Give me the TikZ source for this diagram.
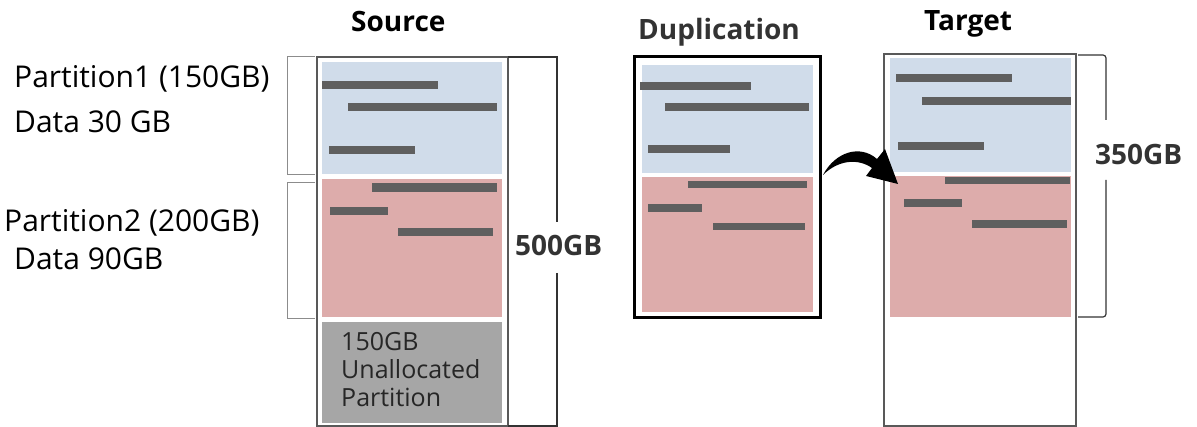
\documentclass[tikz,border=0pt]{standalone}
\usepackage{fontspec}
\setmainfont{Open Sans}
\usetikzlibrary{arrows.meta}
\definecolor{pblue}{HTML}{D0DCEA}
\definecolor{pred}{HTML}{DDACAB}
\definecolor{pgray}{HTML}{A6A6A6}
\definecolor{bar}{HTML}{5F5F5F}
\definecolor{frame}{HTML}{595959}
\definecolor{brk}{HTML}{8C8C8C}
\definecolor{dtext}{HTML}{333333}
\tikzset{
  barline/.style={fill=bar},
  lbl/.style={anchor=base west, inner sep=0pt, font=\fontsize{30}{36}\selectfont},
  ttl/.style={anchor=base west, inner sep=0pt, font=\fontsize{28}{32}\selectfont\bfseries},
  size/.style={anchor=base west, inner sep=0pt, font=\fontsize{28}{32}\selectfont\bfseries, text=dtext},
  thinframe/.style={draw=frame, line width=1.3pt},
  bracket/.style={draw=black!80, line width=1.2pt},
}
\begin{document}
\begin{tikzpicture}[x=1pt,y=-1pt]
\useasboundingbox (0,0) rectangle (1197,427);

% ---------- Source ----------
\node[ttl] (tsrc) at (351,32) {Source};
\draw[thinframe] (317,57) rectangle (508,426);
\fill[pblue] (322,62) rectangle (502,174);
\fill[pred] (322,179) rectangle (502,317);
\fill[pgray] (322,322) rectangle (502,423);
\fill[barline] (322,81) rectangle (438,89);
\fill[barline] (348,103) rectangle (497,111);
\fill[barline] (329,146) rectangle (415,154);
\fill[barline] (372,183) rectangle (497,192);
\fill[barline] (330,207) rectangle (388,215);
\fill[barline] (398,228) rectangle (493,236);
\node[anchor=base west, inner sep=0pt, align=left, font=\fontsize{25}{28.5}\selectfont, text=black!85] (unalloc) at (341,407) {150GB\\Unallocated\\Partition};
% 500GB bracket
\draw[bracket] (557,222) -- (557,57) -- (508,57);
\draw[bracket] (557,273) -- (557,426) -- (508,426);
\node[size] (s500) at (515,256) {500GB};

% left brackets and labels
\draw[draw=brk, line width=1pt] (315,57) -- (287,57) -- (287,175) -- (315,175);
\draw[draw=brk, line width=1pt] (315,183) -- (287,183) -- (287,319) -- (315,319);
\node[lbl] (p1) at (14,88) {Partition1 (150GB)};
\node[lbl] (d1) at (14,133) {Data 30 GB};
\node[lbl] (p2) at (4,232) {Partition2 (200GB)};
\node[lbl] (d2) at (14,270) {Data 90GB};

% ---------- Duplication ----------
\node[ttl, text=dtext] (tdup) at (638,40) {Duplication};
\fill[pblue] (642,65) rectangle (813,173);
\fill[pred] (642,177) rectangle (813,312);
\draw[black, line width=3pt] (634,57) rectangle (820,318);
\fill[barline] (640,82) rectangle (751,90);
\fill[barline] (665,103) rectangle (809,111);
\fill[barline] (648,145) rectangle (730,153);
\fill[barline] (688,181) rectangle (807,188);
\fill[barline] (648,204) rectangle (702,212);
\fill[barline] (713,223) rectangle (805,230);

% ---------- Target ----------
\node[ttl] (ttgt) at (924,31) {Target};
\draw[thinframe] (884,54) rectangle (1076,426);
\fill[pblue] (890,58) rectangle (1071,172);
\fill[pred] (890,176) rectangle (1071,317);
\fill[barline] (896,74) rectangle (1012,82);
\fill[barline] (922,97) rectangle (1071,105);
\fill[barline] (898,142) rectangle (984,150);
\fill[barline] (945,177) rectangle (1070,184);
\fill[barline] (904,199) rectangle (962,207);
\fill[barline] (972,220) rectangle (1067,228);
% 350GB bracket
\draw[bracket, rounded corners=3pt] (1106,120) -- (1106,55) -- (1078,55);
\draw[bracket, rounded corners=3pt] (1106,180) -- (1106,317) -- (1078,317);
\node[size] (s350) at (1095,165) {350GB};

% ---------- Arrow (tapered, filled) ----------
\coordinate (astart) at (823,175);
\coordinate (aend) at (898,184);
\fill[black] (astart) .. controls (835,152) and (860,144) .. (877,159)
  -- (885,149) -- (aend) -- (866,176) -- (872,168)
  .. controls (858,158) and (838,160) .. (astart) -- cycle;
\end{tikzpicture}
\end{document}
